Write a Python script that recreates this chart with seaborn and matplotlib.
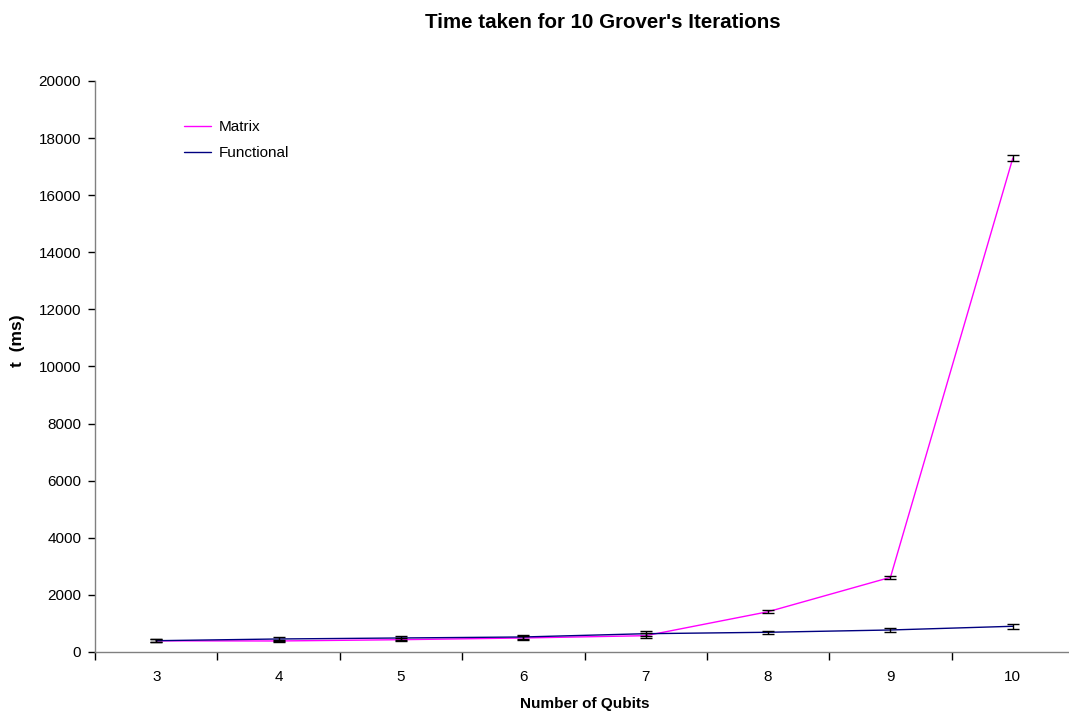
import numpy as np
import pandas as pd
import matplotlib
matplotlib.use('Agg')
import matplotlib.pyplot as plt
from matplotlib.ticker import FixedLocator, NullFormatter, FixedFormatter
import seaborn as sns

qubits = [3, 4, 5, 6, 7, 8, 9, 10]
matrix_ms = [390, 385, 430, 490, 570, 1410, 2615, 17300]
matrix_err = [50, 40, 50, 60, 80, 50, 60, 110]
functional_ms = [395, 455, 490, 525, 640, 690, 770, 900]
functional_err = [50, 60, 70, 80, 90, 50, 60, 90]

df = pd.DataFrame({
    'qubits': qubits * 2,
    'ms': matrix_ms + functional_ms,
    'series': ['Matrix'] * 8 + ['Functional'] * 8,
})

sns.set_style('white')
plt.rcParams['font.family'] = ['Liberation Sans', 'DejaVu Sans']
plt.rcParams['text.color'] = 'black'
plt.rcParams['xtick.color'] = 'black'
plt.rcParams['ytick.color'] = 'black'
plt.rcParams['axes.labelcolor'] = 'black'

fig = plt.figure(figsize=(10.69, 7.13), dpi=100)
ax = fig.add_axes([0.0889, 0.0856, 0.9158, 0.8008])

colors = {'Matrix': '#FF00FF', 'Functional': '#000080'}
sns.lineplot(data=df, x='qubits', y='ms', hue='series', palette=colors,
             linewidth=1.0, ax=ax, legend=True)

ax.errorbar(qubits, matrix_ms, yerr=matrix_err, fmt='none', ecolor='black',
            elinewidth=1.0, capsize=4, capthick=1.0, zorder=3)
ax.errorbar(qubits, functional_ms, yerr=functional_err, fmt='none', ecolor='black',
            elinewidth=1.0, capsize=4, capthick=1.0, zorder=3)

ax.set_xlim(2.5, 10.5)
ax.set_ylim(0, 20000)
ax.set_yticks(np.arange(0, 20001, 2000))
ax.xaxis.set_major_locator(FixedLocator(np.arange(2.5, 10.6, 1)))
ax.xaxis.set_major_formatter(NullFormatter())
ax.xaxis.set_minor_locator(FixedLocator(qubits))
ax.xaxis.set_minor_formatter(FixedFormatter([str(q) for q in qubits]))
ax.tick_params(axis='x', which='major', direction='out', length=6, width=1, color='black', bottom=True)
ax.tick_params(axis='x', which='minor', length=0, labelsize=11, pad=13)
ax.tick_params(axis='y', direction='out', length=5, width=1, color='black', left=True, labelsize=11, pad=5)

for s in ['top', 'right']:
    ax.spines[s].set_visible(False)
for s in ['left', 'bottom']:
    ax.spines[s].set_color('#808080')
    ax.spines[s].set_linewidth(1.0)

ax.set_xlabel('Number of Qubits', fontsize=11, fontweight='bold', labelpad=9)
ax.set_ylabel('t  (ms)', fontsize=12.5, fontweight='bold')
ax.yaxis.set_label_coords(-0.0715, 0.546)
fig.suptitle("Time taken for 10 Grover's Iterations", fontsize=14.8, fontweight='bold', x=0.564, y=0.982)

handles, labels = ax.get_legend_handles_labels()
ax.legend(handles, labels, loc='upper left', bbox_to_anchor=(0.077, 0.955), frameon=False,
          fontsize=11, handlelength=1.75, handletextpad=0.5, labelspacing=0.75)

fig.savefig('out.png', dpi=100)
